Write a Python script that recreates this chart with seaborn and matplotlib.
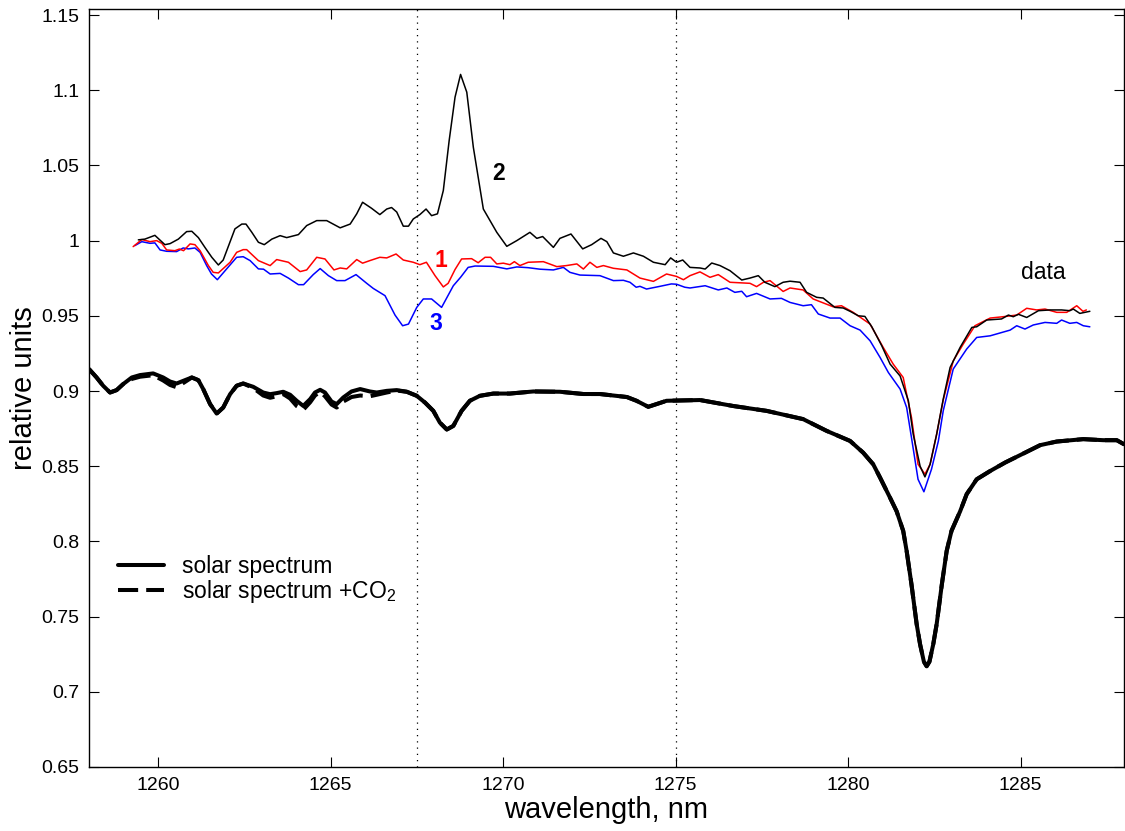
import numpy as np
import pandas as pd
import seaborn as sns
import matplotlib
matplotlib.use("Agg")
import matplotlib.pyplot as plt
from matplotlib.lines import Line2D
from matplotlib.ticker import FuncFormatter, MultipleLocator

# ---- data ----
# solar spectrum (solid)
sol_x = [1258.00,1258.22,1258.41,1258.61,1258.80,1258.99,1259.24,1259.48,1259.86,1260.15,
         1260.35,1260.54,1260.78,1260.98,1261.17,1261.31,1261.51,1261.70,1261.89,1262.09,
         1262.28,1262.47,1262.76,1263.05,1263.25,1263.44,1263.63,1263.83,1264.02,1264.21,
         1264.41,1264.55,1264.70,1264.84,1265.03,1265.18,1265.37,1265.61,1265.86,1266.14,
         1266.34,1266.63,1266.92,1267.21,1267.50,1267.74,1267.98,1268.17,1268.37,1268.56,
         1268.80,1269.04,1269.33,1269.72,1270.20,1270.88,1271.65,1272.33,1272.81,1273.59,
         1273.87,1274.21,1274.45,1274.74,1275.71,1276.68,1277.64,1278.70,1279.38,1280.06,
         1280.44,1280.73,1280.93,1281.22,1281.41,1281.60,1281.70,1281.84,1281.99,1282.09,
         1282.20,1282.28,1282.36,1282.47,1282.57,1282.72,1282.86,1283.00,1283.25,1283.44,
         1283.73,1284.12,1284.56,1285.08,1285.57,1286.05,1286.82,1287.40,1287.79,1288.00]
sol_y = [0.9146,0.9090,0.9035,0.8990,0.9006,0.9046,0.9090,0.9106,0.9117,0.9090,
         0.9063,0.9050,0.9072,0.9090,0.9072,0.9013,0.8913,0.8850,0.8890,0.8979,
         0.9035,0.9050,0.9028,0.8990,0.8979,0.8986,0.8995,0.8975,0.8935,0.8901,
         0.8946,0.8990,0.9008,0.8990,0.8930,0.8913,0.8957,0.8997,0.9013,0.8997,
         0.8990,0.9001,0.9006,0.8995,0.8968,0.8923,0.8868,0.8790,0.8744,0.8768,
         0.8868,0.8935,0.8968,0.8983,0.8983,0.8997,0.8995,0.8980,0.8980,0.8960,
         0.8935,0.8895,0.8913,0.8935,0.8940,0.8900,0.8868,0.8813,0.8735,0.8668,
         0.8590,0.8513,0.8424,0.8290,0.8200,0.8070,0.7936,0.7714,0.7450,0.7315,
         0.7200,0.7170,0.7200,0.7315,0.7450,0.7714,0.7936,0.8070,0.8200,0.8314,
         0.8413,0.8468,0.8525,0.8584,0.8640,0.8664,0.8680,0.8673,0.8673,0.8646]
# solar spectrum + CO2 (dashed)
co2_y = [0.9146,0.9090,0.9035,0.8990,0.9006,0.9046,0.9080,0.9095,0.9105,0.9070,
         0.9040,0.9025,0.9060,0.9090,0.9072,0.9013,0.8913,0.8850,0.8890,0.8979,
         0.9035,0.9050,0.9020,0.8970,0.8955,0.8965,0.8980,0.8950,0.8900,0.8875,
         0.8925,0.8970,0.8995,0.8965,0.8910,0.8890,0.8930,0.8960,0.8970,0.8965,
         0.8975,0.8990,0.9003,0.8995,0.8968,0.8923,0.8868,0.8790,0.8744,0.8768,
         0.8868,0.8935,0.8968,0.8983,0.8983,0.8997,0.8995,0.8980,0.8980,0.8960,
         0.8935,0.8895,0.8913,0.8935,0.8940,0.8900,0.8868,0.8813,0.8735,0.8668,
         0.8590,0.8513,0.8424,0.8290,0.8200,0.8070,0.7936,0.7714,0.7450,0.7315,
         0.7200,0.7170,0.7200,0.7315,0.7450,0.7714,0.7936,0.8070,0.8200,0.8314,
         0.8413,0.8468,0.8525,0.8584,0.8640,0.8664,0.8680,0.8673,0.8673,0.8646]

# data curve 2 (black)
d2_x = [1259.43,1259.62,1259.91,1260.20,1260.35,1260.59,1260.83,1260.98,1261.17,1261.36,
        1261.56,1261.75,1261.89,1262.23,1262.43,1262.55,1262.72,1262.91,1263.08,1263.30,
        1263.54,1263.73,1264.07,1264.31,1264.60,1264.89,1265.28,1265.57,1265.76,1265.93,
        1266.19,1266.43,1266.63,1266.77,1266.92,1267.11,1267.26,1267.40,1267.59,1267.77,
        1267.93,1268.10,1268.27,1268.44,1268.61,1268.77,1268.95,1269.14,1269.43,1269.82,
        1270.11,1270.40,1270.78,1270.98,1271.15,1271.46,1271.65,1271.97,1272.31,1272.57,
        1272.84,1273.01,1273.20,1273.49,1273.78,1274.07,1274.36,1274.70,1274.86,1275.03,
        1275.21,1275.42,1275.71,1275.86,1276.05,1276.29,1276.58,1276.92,1277.16,1277.40,
        1277.59,1277.88,1278.12,1278.32,1278.61,1278.80,1279.09,1279.28,1279.62,1279.86,
        1280.06,1280.30,1280.49,1280.69,1280.98,1281.22,1281.51,1281.75,1281.89,1282.09,
        1282.23,1282.38,1282.57,1282.76,1282.96,1283.25,1283.59,1283.73,1284.02,1284.45,
        1284.65,1284.79,1284.94,1285.18,1285.52,1285.86,1286.19,1286.43,1286.53,1286.72,
        1287.01]
d2_y = [1.0005,1.001,1.0035,0.9973,0.998,1.001,1.006,1.0062,1.002,0.9955,
        0.9889,0.9838,0.9871,1.0078,1.011,1.011,1.0055,0.9989,0.9973,1.001,
        1.0033,1.002,1.004,1.010,1.0133,1.0133,1.0085,1.011,1.0178,1.0255,
        1.0215,1.0173,1.021,1.022,1.019,1.0096,1.0096,1.0144,1.0173,1.021,
        1.0166,1.0178,1.0333,1.0666,1.0954,1.1105,1.0987,1.0621,1.021,1.0055,
        0.9962,1.000,1.0055,1.0015,1.0027,0.9955,1.0015,1.0044,0.9945,0.9973,
        1.0015,0.9993,0.9918,0.9896,0.9918,0.9896,0.9856,0.984,0.9885,0.9856,
        0.9871,0.9822,0.9818,0.9811,0.9851,0.9834,0.980,0.9738,0.9751,0.9767,
        0.9723,0.9694,0.9723,0.973,0.9723,0.9656,0.9623,0.9618,0.9556,0.9552,
        0.9530,0.950,0.9496,0.9427,0.930,0.9179,0.910,0.8935,0.8713,0.850,
        0.8429,0.8513,0.8713,0.8946,0.9157,0.929,0.9423,0.9427,0.9472,0.9479,
        0.9505,0.9494,0.951,0.9489,0.9534,0.9539,0.9539,0.9534,0.9545,0.9516,
        0.953]

# data curve 1 (red)
d1_x = [1259.28,1259.53,1259.77,1259.96,1260.11,1260.25,1260.49,1260.62,1260.74,1260.93,
        1261.07,1261.22,1261.46,1261.60,1261.75,1262.09,1262.28,1262.47,1262.57,1262.91,
        1263.25,1263.44,1263.78,1264.12,1264.31,1264.60,1264.84,1265.10,1265.28,1265.47,
        1265.76,1265.93,1266.14,1266.43,1266.63,1266.90,1267.11,1267.40,1267.59,1267.78,
        1268.03,1268.27,1268.41,1268.61,1268.80,1269.09,1269.28,1269.48,1269.64,1269.82,
        1270.01,1270.20,1270.33,1270.49,1270.73,1271.17,1271.56,1271.84,1272.14,1272.33,
        1272.52,1272.72,1272.91,1273.20,1273.59,1273.97,1274.36,1274.74,1275.03,1275.23,
        1275.42,1275.71,1276.00,1276.24,1276.58,1277.16,1277.35,1277.55,1277.74,1278.12,
        1278.32,1278.70,1278.99,1279.57,1279.81,1280.15,1280.64,1281.02,1281.31,1281.60,
        1281.84,1282.03,1282.23,1282.38,1282.57,1282.76,1283.05,1283.34,1283.68,1284.12,
        1284.50,1284.89,1285.18,1285.47,1285.71,1286.05,1286.34,1286.63,1286.81,1286.91]
d1_y = [0.996,1.0007,0.9993,1.0,0.9982,0.9938,0.9933,0.9944,0.9933,0.9978,
        0.9973,0.9933,0.9834,0.9789,0.9785,0.9856,0.9922,0.994,0.994,0.9867,
        0.9834,0.9874,0.9856,0.9794,0.9805,0.9889,0.9878,0.9805,0.9818,0.9812,
        0.9874,0.985,0.9867,0.9889,0.9885,0.9911,0.9871,0.9856,0.984,0.9856,
        0.9767,0.9692,0.9716,0.9808,0.9878,0.9880,0.9853,0.9889,0.9889,0.9845,
        0.985,0.984,0.986,0.9834,0.9856,0.986,0.9827,0.9834,0.9845,0.9811,
        0.9856,0.9822,0.9834,0.9816,0.9805,0.9751,0.9729,0.9778,0.9762,0.974,
        0.9767,0.9792,0.9756,0.9774,0.9723,0.9716,0.9694,0.9723,0.9734,0.9662,
        0.9685,0.9672,0.9612,0.956,0.9567,0.9523,0.9445,0.929,0.9179,0.909,
        0.8824,0.8513,0.8447,0.8513,0.8713,0.894,0.920,0.9312,0.9434,0.9485,
        0.9494,0.9505,0.955,0.9539,0.9545,0.9523,0.9523,0.9567,0.953,0.9539]

# data curve 3 (blue)
d3_x = [1259.33,1259.53,1259.77,1259.91,1260.06,1260.25,1260.54,1260.73,1260.88,1261.07,
        1261.22,1261.41,1261.55,1261.72,1261.99,1262.28,1262.47,1262.67,1262.91,1263.06,
        1263.25,1263.54,1263.78,1264.07,1264.22,1264.50,1264.70,1264.94,1265.18,1265.42,
        1265.74,1266.05,1266.24,1266.58,1266.87,1267.09,1267.26,1267.50,1267.69,1267.93,
        1268.22,1268.56,1268.77,1268.99,1269.19,1269.72,1270.11,1270.40,1270.73,1271.07,
        1271.46,1271.75,1271.94,1272.23,1272.81,1273.20,1273.49,1273.68,1273.86,1273.97,
        1274.16,1274.55,1274.88,1275.03,1275.27,1275.42,1275.86,1276.24,1276.49,1276.72,
        1276.92,1277.06,1277.35,1277.74,1278.07,1278.32,1278.70,1278.94,1279.14,1279.48,
        1279.77,1280.06,1280.35,1280.64,1280.93,1281.17,1281.51,1281.70,1281.84,1282.03,
        1282.20,1282.42,1282.62,1282.76,1283.05,1283.44,1283.73,1284.12,1284.70,1284.89,
        1285.13,1285.37,1285.71,1286.05,1286.19,1286.43,1286.63,1286.82,1287.01]
d3_y = [0.9967,0.9993,0.9982,0.9985,0.9938,0.9929,0.9927,0.9951,0.9945,0.9951,
        0.9922,0.9834,0.9778,0.974,0.9812,0.9889,0.9893,0.9867,0.9812,0.981,
        0.9778,0.9782,0.9751,0.9707,0.9707,0.9774,0.9814,0.9767,0.9734,0.9734,
        0.9774,0.9716,0.9682,0.9634,0.9505,0.9434,0.9445,0.9556,0.9612,0.9612,
        0.9556,0.97,0.9756,0.9822,0.9831,0.9829,0.9812,0.9825,0.982,0.981,
        0.9805,0.9822,0.9789,0.9771,0.9767,0.9734,0.9736,0.9723,0.969,0.9696,
        0.9678,0.9696,0.9712,0.971,0.969,0.9685,0.970,0.9672,0.9685,0.9656,
        0.9663,0.9627,0.9649,0.9612,0.9616,0.9589,0.9567,0.9574,0.9512,0.9485,
        0.9485,0.9434,0.9405,0.9334,0.9223,0.9123,0.9013,0.889,0.869,0.8413,
        0.833,0.848,0.8668,0.8868,0.9146,0.9279,0.9356,0.9367,0.9405,0.9434,
        0.9412,0.9439,0.9456,0.945,0.9472,0.945,0.9456,0.9434,0.9427]

vlines_x = [1267.5, 1275.0]
legend_labels = ["solar spectrum", "solar spectrum +CO$_2$"]
curve_labels = [("2", 1269.86, 1.0446, "black", "bold"),
                ("1", 1268.20, 0.9870, "red", "bold"),
                ("3", 1268.06, 0.9447, "blue", "bold"),
                ("data", 1285.65, 0.9787, "black", "normal")]

# ---- style ----
sns.set_style("ticks")
plt.rcParams["font.family"] = ["Liberation Sans", "DejaVu Sans"]
plt.rcParams["mathtext.fontset"] = "custom"
plt.rcParams["mathtext.rm"] = "Liberation Sans"
plt.rcParams["text.color"] = "black"
plt.rcParams["axes.labelcolor"] = "black"
plt.rcParams["axes.edgecolor"] = "black"
plt.rcParams["xtick.color"] = "black"
plt.rcParams["ytick.color"] = "black"

fig = plt.figure(figsize=(11.25, 8.31), dpi=100)
ax = fig.add_axes([89/1125, (831-767)/831, (1124-89)/1125, (767-9)/831])

for xv in vlines_x:
    ax.axvline(xv, color="black", linestyle=(0, (1, 4)), linewidth=0.9, zorder=1)

sol_kw = dict(color="black", linewidth=2.9, sort=False,
              solid_joinstyle="round", solid_capstyle="round",
              dash_joinstyle="round")
sns.lineplot(x=sol_x, y=co2_y, ax=ax, linestyle=(0, (5, 2)), zorder=2, **sol_kw)
sns.lineplot(x=sol_x, y=sol_y, ax=ax, zorder=3, **sol_kw)
sns.lineplot(x=d3_x, y=d3_y, ax=ax, color="#0000ff", linewidth=1.1, sort=False, zorder=4)
sns.lineplot(x=d1_x, y=d1_y, ax=ax, color="#ff0000", linewidth=1.1, sort=False, zorder=5)
sns.lineplot(x=d2_x, y=d2_y, ax=ax, color="black", linewidth=1.1, sort=False, zorder=6)

for txt, xx, yy, col, wt in curve_labels:
    ax.text(xx, yy, txt, color=col, fontsize=16.5, fontweight=wt, ha="center", va="center")

ax.set_xlim(1258, 1288)
ax.set_ylim(0.65, 1.154)
ax.xaxis.set_major_locator(MultipleLocator(5))
ax.yaxis.set_major_locator(MultipleLocator(0.05))
ax.yaxis.set_major_formatter(FuncFormatter(lambda v, p: "%g" % round(v, 3)))
ax.tick_params(direction="in", length=7, width=0.8, top=True, right=True, pad=7)
ax.tick_params(axis="y", labelsize=14)
ax.tick_params(axis="x", labelsize=14)
for lab in ax.get_xticklabels():
    lab.set_family(["Liberation Sans Narrow", "Liberation Sans"])
for sp in ax.spines.values():
    sp.set_linewidth(1.0)
    sp.set_visible(True)

ax.set_xlabel("wavelength, nm", fontsize=21, labelpad=2)
ax.set_ylabel("relative units", fontsize=21, labelpad=2)

handles = [Line2D([], [], color="black", linewidth=2.9),
           Line2D([], [], color="black", linewidth=2.9, linestyle=(0, (5, 2)))]
ax.legend(handles, legend_labels, loc="upper left", bbox_to_anchor=(0.0193, 0.2916),
          frameon=False, fontsize=16.5, handlelength=2.0, handletextpad=0.8,
          labelspacing=0.0, borderaxespad=0.0, borderpad=0.4)

fig.savefig("out.png", dpi=100)
